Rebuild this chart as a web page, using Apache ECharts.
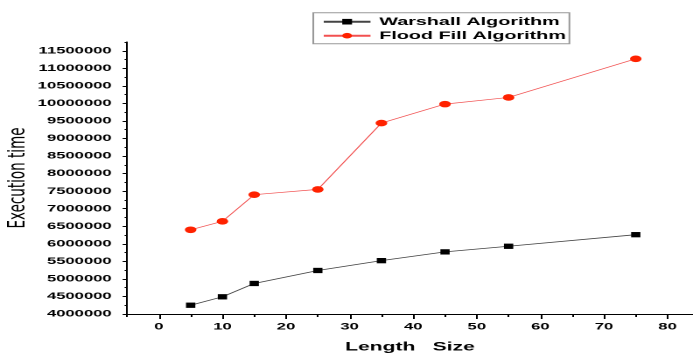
<!DOCTYPE html>
<html>
<head>
<meta charset="utf-8">
<script src="https://cdn.jsdelivr.net/npm/echarts@6/dist/echarts.min.js"></script>
<style>
  html, body { margin: 0; padding: 0; background: #fff; overflow: hidden; }
  #wrap { width: 693px; height: 353px; overflow: hidden; }
  /* the source picture is stretched sideways, so the chart is drawn narrow and widened */
  #chart { width: 396px; height: 353px; transform: scaleX(1.75); transform-origin: 0 0; }
</style>
</head>
<body>
<div id="wrap"><div id="chart"></div></div>
<script>
const lengthSize = [5, 10, 15, 25, 35, 45, 55, 75];
const warshall = [4250000, 4490000, 4870000, 5240000, 5520000, 5770000, 5930000, 6260000];
const floodFill = [6400000, 6640000, 7400000, 7550000, 9440000, 9980000, 10170000, 11270000];

const xTicks = [0, 10, 20, 30, 40, 50, 60, 70, 80];
const xMinorTicks = [-5, 5, 15, 25, 35, 45, 55, 65, 75];
const yTicks = [4000000, 4500000, 5000000, 5500000, 6000000, 6500000, 7000000, 7500000,
  8000000, 8500000, 9000000, 9500000, 10000000, 10500000, 11000000, 11500000];
const yMinorTicks = [4250000, 4750000, 5250000, 5750000, 6250000, 6750000, 7250000, 7750000,
  8250000, 8750000, 9250000, 9750000, 10250000, 10750000, 11250000, 11750000];

const boldFont = { fontFamily: "'Liberation Sans', Arial, sans-serif", fontWeight: 'bold', color: '#000' };

const chart = echarts.init(document.getElementById('chart'), null, { devicePixelRatio: 2 });

chart.setOption({
  backgroundColor: '#fff',
  animation: false,
  grid: { left: 72.6, right: 0, top: 42, bottom: 39, outerBoundsMode: 'none', containLabel: false },
  legend: {
    orient: 'vertical',
    left: 179,
    top: 12.7,
    padding: [3, 2, 2, 5],
    itemWidth: 26.7,
    itemHeight: 7,
    itemGap: 2,
    borderColor: '#999',
    borderWidth: 1,
    textStyle: { ...boldFont, fontSize: 11.3, lineHeight: 12 },
    data: ['Warshall Algorithm', 'Flood Fill Algorithm'],
  },
  xAxis: [
    {
      type: 'value',
      position: 'bottom',
      min: -5,
      max: 84,
      name: 'Length   Size',
      nameLocation: 'middle',
      nameGap: 27,
      nameMoveOverlap: false,
      nameTextStyle: { ...boldFont, fontSize: 12 },
      axisLine: { onZero: false, lineStyle: { color: '#000', width: 1 } },
      axisTick: { customValues: xTicks, length: 5, lineStyle: { color: '#000' } },
      axisLabel: { customValues: xTicks, margin: 8, ...boldFont, fontSize: 9.5 },
      splitLine: { show: false },
    },
    {
      // minor ticks
      type: 'value',
      position: 'bottom',
      min: -5,
      max: 84,
      axisLine: { show: false, onZero: false },
      axisTick: { customValues: xMinorTicks, length: 3, lineStyle: { color: '#000' } },
      axisLabel: { show: false },
      splitLine: { show: false },
    },
  ],
  yAxis: [
    {
      type: 'value',
      position: 'left',
      min: 4000000,
      max: 11750000,
      name: 'Execution time',
      nameLocation: 'middle',
      nameGap: 55,
      nameMoveOverlap: false,
      nameTextStyle: { fontFamily: "'DejaVu Sans', sans-serif", fontSize: 13.5, color: '#000' },
      axisLine: { show: true, onZero: false, lineStyle: { color: '#000', width: 1 } },
      axisTick: { show: true, customValues: yTicks, length: 2.5, lineStyle: { color: '#000' } },
      axisLabel: {
        customValues: yTicks,
        margin: 8.8,
        ...boldFont,
        fontSize: 9.5,
        formatter: (v) => String(v),
      },
      splitLine: { show: false },
    },
    {
      // minor ticks
      type: 'value',
      position: 'left',
      min: 4000000,
      max: 11750000,
      axisLine: { show: false, onZero: false },
      axisTick: { show: true, customValues: yMinorTicks, length: 1.4, lineStyle: { color: '#000' } },
      axisLabel: { show: false },
      splitLine: { show: false },
    },
  ],
  series: [
    {
      name: 'Warshall Algorithm',
      type: 'line',
      xAxisIndex: 0,
      yAxisIndex: 0,
      symbol: 'rect',
      symbolSize: 5.3,
      itemStyle: { color: '#000' },
      lineStyle: { color: '#444', width: 0.8 },
      data: lengthSize.map((x, i) => [x, warshall[i]]),
    },
    {
      name: 'Flood Fill Algorithm',
      type: 'line',
      xAxisIndex: 0,
      yAxisIndex: 0,
      symbol: 'circle',
      symbolSize: 6.6,
      itemStyle: { color: '#ff2200' },
      lineStyle: { color: '#f25050', width: 0.7 },
      data: lengthSize.map((x, i) => [x, floodFill[i]]),
    },
  ],
});
</script>
</body>
</html>
